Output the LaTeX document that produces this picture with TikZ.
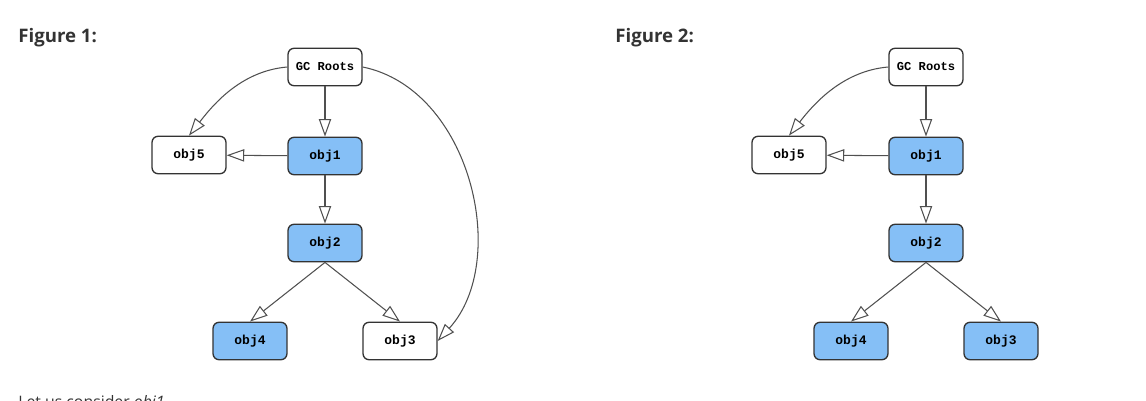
\documentclass[tikz,border=0pt]{standalone}
\usepackage{fontspec}
\setmainfont{Open Sans}
\newfontfamily\objfont{Liberation Mono}
\usetikzlibrary{arrows.meta}
\definecolor{objblue}{RGB}{133,191,246}
\definecolor{edgegray}{RGB}{80,80,80}
\definecolor{textgray}{RGB}{51,51,51}
\begin{document}
\begin{tikzpicture}[x=0.02cm, y=-0.02cm,
  obj/.style={draw=black!80, line width=0.75pt, rounded corners=3.5pt, fill=white,
    minimum width=1.48cm, minimum height=0.75cm, inner sep=0pt,
    font=\objfont\bfseries\fontsize{7.4}{9}\selectfont},
  root/.style={obj, font=\objfont\bfseries\fontsize{6.9}{8}\selectfont},
  live/.style={obj, fill=objblue},
  ref/.style={-{Triangle[open, length=10pt, width=7pt]}, edgegray, line width=0.6pt},
  title/.style={anchor=base west, inner sep=0pt, text=textgray, font=\bfseries\fontsize{10.6}{13}\selectfont}]

\useasboundingbox (0,0) rectangle (1146,401);

\node(fig1) at (18,43) [title] {Figure 1:};
\node(fig2) at (615,43) [title] {Figure 2:};

% figure 1
\node(gc1) at (325,67) [root] {GC Roots};
\node(o5a) at (189,155) [obj] {obj5};
\node(o1a) at (325,156) [live] {obj1};
\node(o2a) at (325,243) [live] {obj2};
\node(o4a) at (250,341) [live] {obj4};
\node(o3a) at (400,341) [obj] {obj3};

\draw[ref] (gc1) to (o1a);
\draw[ref] (o1a) to (o5a);
\draw[ref] (o1a) to (o2a);
\draw[ref] (o2a.south) to (o4a.north);
\draw[ref] (o2a.south) to (o3a.north);
\draw[ref] (gc1.west) .. controls +(-48,4) and +(22,-28) .. (o5a.north);
\draw[ref] (gc1.east) .. controls +(108,22) and +(73,-80) .. (o3a.east);

% figure 2
\node(gc2) at (926,67) [root] {GC Roots};
\node(o5b) at (789,155) [obj] {obj5};
\node(o1b) at (926,156) [live] {obj1};
\node(o2b) at (926,243) [live] {obj2};
\node(o4b) at (851,341) [live] {obj4};
\node(o3b) at (1001,341) [live] {obj3};

\draw[ref] (gc2) to (o1b);
\draw[ref] (o1b) to (o5b);
\draw[ref] (o1b) to (o2b);
\draw[ref] (o2b.south) to (o4b.north);
\draw[ref] (o2b.south) to (o3b.north);
\draw[ref] (gc2.west) .. controls +(-48,4) and +(22,-28) .. (o5b.north);

\node(next) at (18,408) [anchor=base west, inner sep=0pt, text=textgray, font=\fontsize{9}{11}\selectfont] {Let us consider \textit{obj1}};

\end{tikzpicture}
\end{document}
